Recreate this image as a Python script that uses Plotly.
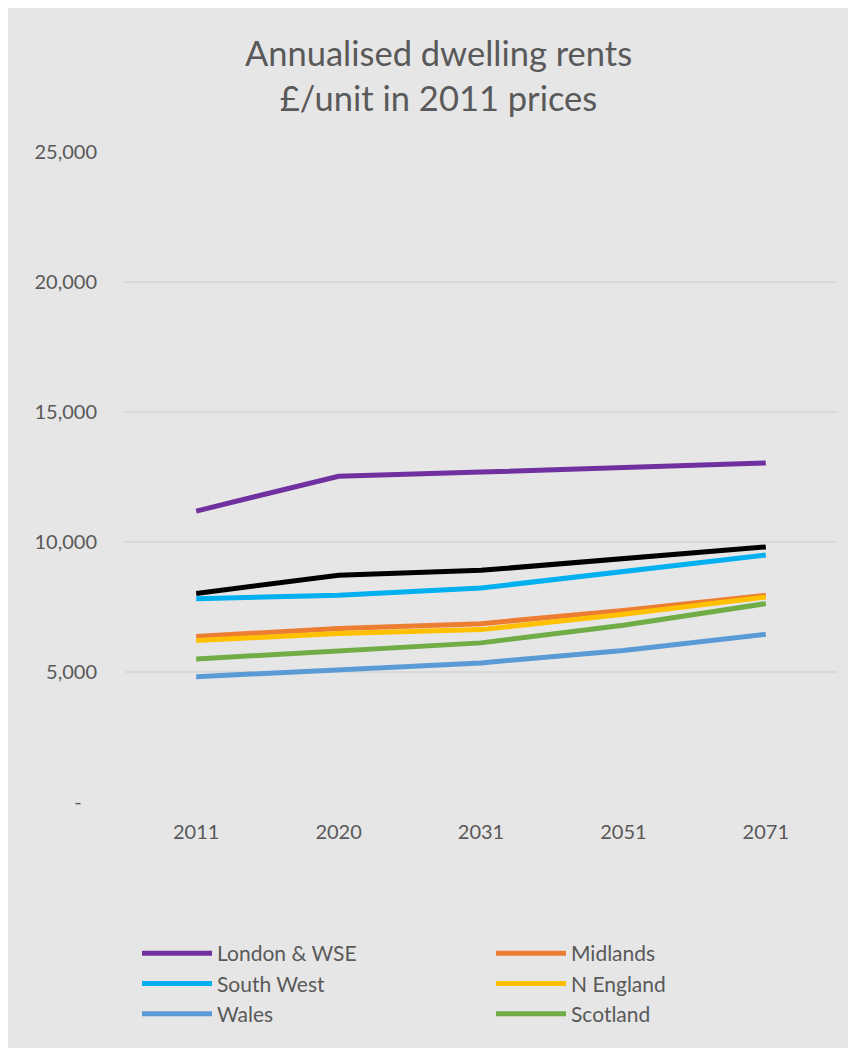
import plotly.graph_objects as go

years = ["2011", "2020", "2031", "2051", "2071"]
london = [11190, 12530, 12690, 12880, 13040]
midlands = [6370, 6670, 6860, 7370, 7950]
south_west = [7820, 7950, 8230, 8850, 9500]
n_england = [6210, 6480, 6630, 7220, 7880]
wales = [4820, 5090, 5350, 5830, 6450]
scotland = [5500, 5810, 6120, 6800, 7630]
england = [8020, 8720, 8910, 9360, 9810]

series = [
    ("London & WSE", london, "#7030A0"),
    ("Midlands", midlands, "#ED7D31"),
    ("South West", south_west, "#00B0F0"),
    ("N England", n_england, "#FFC000"),
    ("Wales", wales, "#5B9BD5"),
    ("Scotland", scotland, "#70AD47"),
]

y_tickvals = [0, 5000, 10000, 15000, 20000, 25000]
y_ticktext = ["-\u00a0\u00a0\u00a0", "5,000", "10,000", "15,000", "20,000", "25,000"]

fig = go.Figure()
for name, vals, col in series:
    fig.add_trace(go.Scatter(x=years, y=vals, name=name, mode="lines",
                             line=dict(color=col, width=5)))
fig.add_trace(go.Scatter(x=years, y=england, name="England", mode="lines",
                         line=dict(color="#000000", width=5), showlegend=False))

W, H = 848, 1040
L, T = 117, 144
R = W - 829
B = H - 794

fig.update_layout(
    width=W, height=H,
    margin=dict(l=L, r=R, t=T, b=B, autoexpand=False),
    paper_bgcolor="#E6E6E6",
    plot_bgcolor="#E6E6E6",
    font=dict(family="Lato, Open Sans, sans-serif", color="#595959", size=20),
    title=dict(text="Annualised dwelling rents<br>£/unit in 2011 prices",
               x=0.5077, xanchor="center", y=1 - 58 / H, yanchor="top",
               font=dict(size=34.5, color="#595959")),
    xaxis=dict(range=[-0.5, 4.5], showgrid=False, zeroline=False, showline=False,
               ticks="", ticklabelstandoff=16, tickfont=dict(size=20)),
    yaxis=dict(range=[0, 25000], tickvals=y_tickvals, ticktext=y_ticktext,
               showgrid=True, gridcolor="#D9D9D9", gridwidth=1.5,
               zeroline=False, showline=False, ticks="",
               ticklabelstandoff=27, tickfont=dict(size=20)),
    legend=dict(orientation="h", xref="container", yref="container",
                x=129 / W, xanchor="left",
                y=1 - 925 / H, yanchor="top",
                itemwidth=70, entrywidth=269, entrywidthmode="pixels",
                font=dict(size=21, color="#595959"),
                bgcolor="rgba(0,0,0,0)"),
    showlegend=True,
)

fig.write_html("out.html")
